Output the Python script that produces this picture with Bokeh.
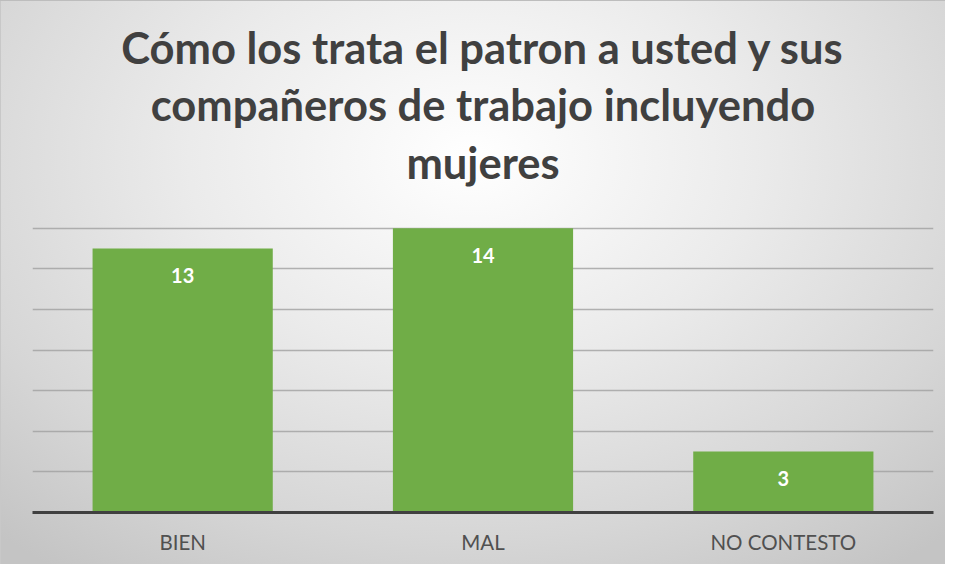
from bokeh.plotting import figure
from bokeh.models import FactorRange, Range1d, FixedTicker, Title, ColumnDataSource
from bokeh.core.properties import value
from bokeh.embed import file_html
from bokeh.resources import INLINE

categories = ["BIEN", "MAL", "NO CONTESTO"]
counts = [13, 14, 3]
count_labels = ["13", "14", "3"]
grid_ticks = [2, 4, 6, 8, 10, 12, 14, 16]
title_lines = ["Cómo los trata el patron a usted y sus",
               "compañeros de trabajo incluyendo",
               "mujeres"]

FONT = "Lato"

p = figure(width=945, height=564, output_backend="svg", toolbar_location=None,
           x_range=FactorRange(factors=categories, range_padding=0),
           y_range=Range1d(0, 16),
           min_border_left=32, min_border_right=12, min_border_top=187, min_border_bottom=52)

p.background_fill_color = None
p.border_fill_color = None
p.outline_line_color = None
p.styles = {"background": "radial-gradient(ellipse 75% 90% at 50% 28%, #ffffff 0%, #ebebeb 40%, #d6d6d6 75%, #c4c4c4 100%)",
            "box-shadow": "inset 0 1px 0 #bdbdbd, inset 1px 0 0 #c8c8c8"}

src = ColumnDataSource(dict(cat=categories, cnt=counts, lab=count_labels))
p.vbar(x="cat", top="cnt", width=0.6, source=src, fill_color="#70AD47", line_color=None)
p.text(x="cat", y="cnt", text="lab", source=src, text_color="white",
       text_font=value(FONT), text_font_style="bold", text_font_size="20px",
       text_align="center", text_baseline="middle", y_offset=27)

p.yaxis.visible = False
p.xgrid.grid_line_color = None
p.ygrid.ticker = FixedTicker(ticks=grid_ticks)
p.ygrid.grid_line_color = "#a0a0a0"
p.ygrid.grid_line_width = 1.5
p.ygrid.grid_line_alpha = 0.8

ax = p.xaxis[0]
ax.axis_line_color = "#404040"
ax.axis_line_width = 3
ax.major_tick_line_color = None
ax.minor_tick_line_color = None
ax.major_label_text_font = FONT
ax.major_label_text_font_size = "20.5px"
ax.major_label_text_color = "#505050"
ax.major_label_standoff = 11

# title lines: added nearest-first
standoffs = [0, 7, 0]
for i, line in enumerate(reversed(title_lines)):
    t = Title(text=line, align="center", text_font=FONT, text_font_size="43.5px",
              text_font_style="bold", text_color="#404040", standoff=standoffs[i])
    p.add_layout(t, "above")
p.title.visible = False

open("out.html", "w").write(file_html(p, INLINE))
